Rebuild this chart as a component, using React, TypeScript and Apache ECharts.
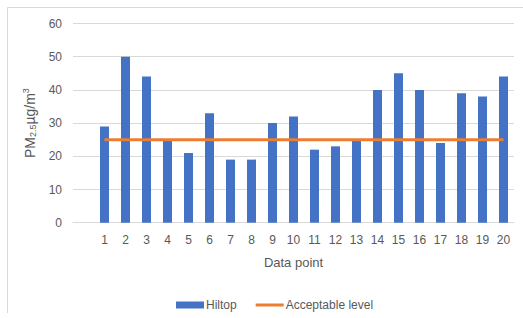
import React, { useEffect, useRef } from "react";
import * as echarts from "echarts";

const categories = ["", "1", "2", "3", "4", "5", "6", "7", "8", "9", "10", "11", "12", "13", "14", "15", "16", "17", "18", "19", "20"];
const hiltop = [null, 29, 50, 44, 25, 21, 33, 19, 19, 30, 32, 22, 23, 25, 40, 45, 40, 24, 39, 38, 44];
const acceptable = [null, 25, 25, 25, 25, 25, 25, 25, 25, 25, 25, 25, 25, 25, 25, 25, 25, 25, 25, 25, 25];
const yMin = 0;
const yMax = 60;
const yInterval = 10;

const FONT = "Liberation Sans";
const TEXT = "#595959";

export default function App() {
  const ref = useRef<HTMLDivElement>(null);
  useEffect(() => {
    const chart = echarts.init(ref.current!, null, { renderer: "svg" });
    chart.setOption({
      animation: false,
      textStyle: { fontFamily: FONT },
      graphic: [
        { type: "line", shape: { x1: 7.5, y1: 7.5, x2: 523, y2: 7.5 }, style: { stroke: "#d9d9d9", lineWidth: 1 } },
        { type: "line", shape: { x1: 7.5, y1: 7.5, x2: 7.5, y2: 313 }, style: { stroke: "#d9d9d9", lineWidth: 1 } },
      ],
      grid: { left: 73, right: 9, top: 23.5, bottom: 95.3, containLabel: false },
      legend: {
        left: 171,
        top: 294,
        itemGap: 19,
        itemWidth: 28,
        itemHeight: 7,
        textStyle: { color: TEXT, fontSize: 12, fontFamily: FONT, padding: [0, 0, 0, -3] },
        data: [
          { name: "Hiltop", icon: "rect" },
          { name: "Acceptable level", icon: "path://M0,0H28V3H0Z", itemStyle: { color: "#ED7D31" } },
        ],
      },
      xAxis: {
        type: "category",
        data: categories,
        boundaryGap: true,
        name: "Data point",
        nameLocation: "middle",
        nameGap: 33,
        nameTextStyle: { color: TEXT, fontSize: 13, fontFamily: FONT },
        axisLine: { lineStyle: { color: "#d9d9d9" } },
        axisTick: { show: false },
        axisLabel: { color: TEXT, fontSize: 12, margin: 11, interval: 0, fontFamily: FONT },
      },
      yAxis: {
        type: "value",
        min: yMin,
        max: yMax,
        interval: yInterval,
        name: "{a|PM}{b|2.5}{a|µg/m}{c|3}",
        nameLocation: "middle",
        nameRotate: 90,
        nameGap: 30,
        nameTextStyle: {
          color: TEXT,
          fontFamily: FONT,
          rich: {
            a: { fontSize: 14, color: TEXT, fontFamily: FONT },
            b: { fontSize: 9, color: TEXT, fontFamily: FONT, verticalAlign: "bottom", padding: [7, 0, 0, 0] },
            c: { fontSize: 9, color: TEXT, fontFamily: FONT, verticalAlign: "top", padding: [0, 0, 6, 0] },
          },
        },
        axisLine: { show: false },
        axisTick: { show: false },
        axisLabel: { color: TEXT, fontSize: 12, margin: 11, fontFamily: FONT },
        splitLine: { lineStyle: { color: "#d9d9d9" } },
      },
      series: [
        {
          name: "Hiltop",
          type: "bar",
          data: hiltop,
          barWidth: 9,
          itemStyle: { color: "#4472C4" },
        },
        {
          name: "Acceptable level",
          type: "line",
          data: acceptable,
          symbol: "none",
          lineStyle: { color: "#ED7D31", width: 3 },
          itemStyle: { color: "#ED7D31" },
        },
      ],
    });
    return () => chart.dispose();
  }, []);
  return <div ref={ref} style={{ position: "fixed", left: 0, top: 0, width: 523, height: 318, background: "#fff" }} />;
}
